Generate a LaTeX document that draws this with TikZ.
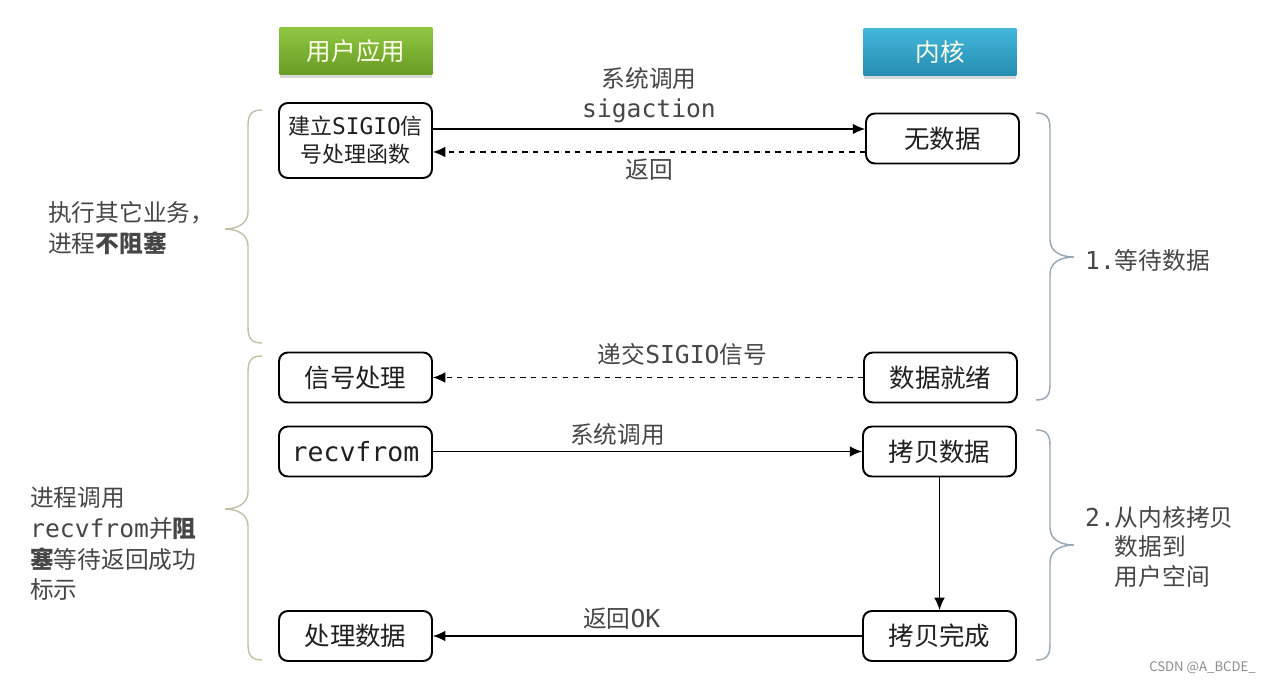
\documentclass[tikz,border=0pt]{standalone}
\usepackage{fontspec}
\setmainfont{Noto Sans CJK SC}
\setmonofont{DejaVu Sans Mono}[Scale=1.04]
\usetikzlibrary{arrows.meta}
\usetikzlibrary{positioning}
\usetikzlibrary{shadows}
\definecolor{mgreen}{RGB}{143,199,66}
\definecolor{mgreendark}{RGB}{104,156,36}
\definecolor{mblue}{RGB}{66,183,217}
\definecolor{mbluedark}{RGB}{38,140,178}
\definecolor{mtext}{RGB}{70,70,70}
\definecolor{mbraceleft}{RGB}{192,192,165}
\definecolor{mbraceright}{RGB}{152,166,182}
\tikzset{
  box/.style={draw, line width=1.1pt, rounded corners=5pt, minimum width=3.06cm,
              minimum height=1cm, text=black!88, font=\fontsize{14.5}{17}\selectfont},
  head/.style={minimum width=3.06cm, minimum height=0.94cm, text=white!92!yellow,
               font=\fontsize{14}{17}\selectfont,
               drop shadow={opacity=0.3, shadow xshift=0pt, shadow yshift=-2pt}},
  call/.style={-{Latex[length=7pt,width=6pt]}, line width=0.7pt},
  back/.style={call, dashed},
  lbl/.style={text=mtext, font=\fontsize{13.5}{17}\selectfont},
  side/.style={text=mtext, align=left, font=\fontsize{13.5}{17.5}\selectfont},
  lbrace/.style={line width=0.8pt, mbraceleft},
  rbrace/.style={line width=0.8pt, mbraceright},
}

\begin{document}
\begin{tikzpicture}[x=0.02cm, y=-0.02cm]
  \useasboundingbox (0,0) rectangle (1275,685);

  \node[head, top color=mgreen, bottom color=mgreendark] (userapp) at (356,51) {用户应用};
  \node[head, top color=mblue, bottom color=mbluedark] (kernel) at (940,52) {内核};

  \node[box, minimum height=1.5cm, align=center, font=\fontsize{12.5}{16}\selectfont]
    (setup) at (355.5,140.5) {建立\texttt{SIGIO}信\\号处理函数};
  \node[box] (nodata) at (942.5,138.5) {无数据};
  \node[box] (sighandle) at (355.5,377.5) {信号处理};
  \node[box] (ready) at (940.5,377.5) {数据就绪};
  \node[box] (recv) at (355.5,451.5) {\texttt{recvfrom}};
  \node[box] (copy) at (939.5,451.5) {拷贝数据};
  \node[box] (procdata) at (355.5,636) {处理数据};
  \node[box] (copydone) at (939.5,636) {拷贝完成};

  \draw[call] ([yshift=0.23cm]setup.east) -- ([yshift=0.23cm]setup.east -| nodata.west)
    node[lbl, midway, above, align=center] {系统调用\\\texttt{sigaction}};
  \draw[back] ([yshift=-0.27cm]nodata.west) -- ([yshift=-0.27cm]nodata.west -| setup.east)
    node[lbl, midway, below] {返回};
  \draw[back] (ready) -- (sighandle) node[lbl, pos=0.42, above, yshift=3pt] {递交\texttt{SIGIO}信号};
  \draw[call] (recv) -- (copy) node[lbl, pos=0.43, above] {系统调用};
  \draw[call] (copy) -- (copydone);
  \draw[call] (copydone) -- (procdata) node[lbl, pos=0.56, above] {返回\texttt{OK}};

  % braces
  \draw[lbrace] (262,110) .. controls (251,110) and (248,115) .. (248,126) -- (248,212)
    .. controls (248,223) and (238,229) .. (225,229) .. controls (238,229) and (248,235) .. (248,246)
    -- (248,327) .. controls (248,338) and (251,343) .. (262,343);
  \draw[lbrace] (262,356) .. controls (251,356) and (248,361) .. (248,372) -- (248,492)
    .. controls (248,503) and (238,509) .. (225,509) .. controls (238,509) and (248,515) .. (248,526)
    -- (248,644) .. controls (248,655) and (251,660) .. (262,660);
  \draw[rbrace] (1036,113) .. controls (1047,113) and (1050,118) .. (1050,129) -- (1050,240)
    .. controls (1050,251) and (1060,257) .. (1074,257) .. controls (1060,257) and (1050,263) .. (1050,274)
    -- (1050,384) .. controls (1050,395) and (1047,400) .. (1036,400);
  \draw[rbrace] (1036,430) .. controls (1047,430) and (1050,435) .. (1050,446) -- (1050,528)
    .. controls (1050,539) and (1060,545) .. (1074,545) .. controls (1060,545) and (1050,551) .. (1050,562)
    -- (1050,644) .. controls (1050,655) and (1047,660) .. (1036,660);

  \node[side, anchor=west] (idle) at (42,228) {执行其它业务，\\进程\textbf{不阻塞}};
  \node[side, anchor=west] (blocked) at (24,544)
    {进程调用\\\texttt{recvfrom}并\textbf{阻}\\\textbf{塞}等待返回成功\\标示};
  \node[side, anchor=west] (waitdata) at (1079,260) {\texttt{1.}等待数据};
  \node[side, anchor=west, font=\fontsize{13.5}{17}\selectfont] (copyuser) at (1079,547)
    {\texttt{2.}从内核拷贝\\\hphantom{\texttt{2.}}数据到\\\hphantom{\texttt{2.}}用户空间};

  \node[text=black!45, anchor=east, font=\fontsize{7.5}{9}\selectfont] (mark) at (1262,668) {CSDN @A\_BCDE\_};
\end{tikzpicture}
\end{document}
